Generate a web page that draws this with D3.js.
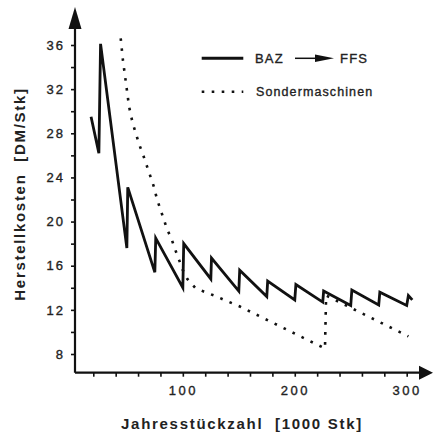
<!DOCTYPE html>
<html>
<head>
<meta charset="utf-8">
<script src="https://cdn.jsdelivr.net/npm/d3@7"></script>
<style>
  html, body { margin: 0; padding: 0; background: #fff; }
  svg { display: block; font-family: "Liberation Sans", Arial, sans-serif; }
  .thick { stroke: #222; stroke-width: 0.35px; }
</style>
</head>
<body>
<svg id="chart" width="435" height="435"></svg>
<script>
// BAZ -> FFS (sawtooth), Jahresstueckzahl in 1000 Stk, Kosten in DM/Stk
var bazX = [18, 25, 26.5, 50, 50.8, 75, 75.8, 100, 100.8, 125, 125.6, 150, 150.8, 175, 175.8, 200, 201, 225, 225.8, 250, 251, 275, 276, 300, 301.5, 305];
var bazY = [29.5, 26.2, 36.1, 17.6, 23.1, 15.4, 18.5, 14.0, 18.0, 14.8, 16.7, 13.7, 15.6, 13.2, 14.6, 12.9, 14.3, 12.7, 13.7, 12.4, 13.8, 12.45, 13.6, 12.4, 13.3, 12.9];

// Sondermaschinen (dotted)
var sondX = [44.5, 46.5, 49, 52, 55, 58, 61, 65, 70, 74, 77, 82, 86, 90, 93, 96, 100, 104, 111, 120, 128, 137, 151, 227, 228, 301.5];
var sondY = [36.6, 34.6, 32.7, 30.4, 29.0, 28.0, 27.0, 25.9, 24.4, 23.2, 22.0, 20.5, 19.3, 18.4, 17.5, 16.7, 15.6, 14.8, 14.0, 13.6, 13.3, 12.9, 12.3, 8.5, 13.3, 9.6];

var xTicks = [20, 40, 60, 80, 100, 120, 140, 160, 180, 200, 220, 240, 260, 280, 300];
var xLabels = [100, 200, 300];
var yTicks = [8, 10, 12, 14, 16, 18, 20, 22, 24, 26, 28, 30, 32, 34, 36];
var yLabels = [8, 12, 16, 20, 24, 28, 32, 36];

var legendLabels = ["BAZ", "FFS", "Sondermaschinen"];
var xTitle = "Jahresstückzahl  [1000 Stk]";
var yTitle = "Herstellkosten  [DM/Stk]";

var svg = d3.select("#chart");

var x = d3.scaleLinear().domain([0, 300]).range([70.9, 406.7]);
var y = d3.scaleLinear().domain([8, 36]).range([354, 45]);

var axisX0 = 75;      // left end of x axis / position of y axis
var axisY0 = 372.7;   // y position of x axis

// x axis
let gx = svg.append("g")
  .attr("transform", "translate(0," + axisY0 + ")")
  .call(d3.axisBottom(x)
    .tickValues(xTicks)
    .tickSize(4)
    .tickPadding(9)
    .tickFormat(d => xLabels.includes(d) ? d : ""));
gx.select(".domain").remove();
gx.selectAll(".tick line").attr("stroke", "#111").attr("stroke-width", 1.6);
gx.selectAll(".tick text")
  .attr("class", "thick")
  .attr("fill", "#222")
  .style("font-size", "13px")
  .style("letter-spacing", "2.5px");

// y axis
let gy = svg.append("g")
  .attr("transform", "translate(" + axisX0 + ",0)")
  .call(d3.axisLeft(y)
    .tickValues(yTicks)
    .tickSize(4)
    .tickPadding(6)
    .tickFormat(d => yLabels.includes(d) ? d : ""));
gy.select(".domain").remove();
gy.selectAll(".tick line").attr("stroke", "#111").attr("stroke-width", 1.6);
gy.selectAll(".tick text")
  .attr("class", "thick")
  .attr("fill", "#222")
  .style("font-size", "13px")
  .style("letter-spacing", "2px");

// axis lines with arrows
svg.append("path")
  .attr("d", "M" + axisX0 + "," + axisY0 + "V28 M" + axisX0 + "," + axisY0 + "H420")
  .attr("fill", "none")
  .attr("stroke", "#111")
  .attr("stroke-width", 2.2);
svg.append("path")
  .attr("d", "M" + axisX0 + ",7 L" + (axisX0 + 6.5) + ",29 L" + (axisX0 - 6.5) + ",29 Z")
  .attr("fill", "#111");
svg.append("path")
  .attr("d", "M433," + axisY0 + " L419," + (axisY0 - 7) + " L419," + (axisY0 + 7) + " Z")
  .attr("fill", "#111");

// data lines
var line = d3.line()
  .x(d => x(d[0]))
  .y(d => y(d[1]));

svg.append("path")
  .datum(d3.zip(sondX, sondY))
  .attr("d", line)
  .attr("fill", "none")
  .attr("stroke", "#111")
  .attr("stroke-width", 2.6)
  .attr("stroke-dasharray", "2.6 7.4");

svg.append("path")
  .datum(d3.zip(bazX, bazY))
  .attr("d", line)
  .attr("fill", "none")
  .attr("stroke", "#111")
  .attr("stroke-width", 2.8)
  .attr("stroke-linejoin", "miter");

// legend
let leg = svg.append("g").attr("class", "legend");
leg.append("line")
  .attr("x1", 201.7).attr("x2", 243.3)
  .attr("y1", 58.3).attr("y2", 58.3)
  .attr("stroke", "#111").attr("stroke-width", 3);
leg.append("text").text(legendLabels[0])
  .attr("class", "thick")
  .attr("x", 255).attr("y", 62.8)
  .style("font-size", "13px").style("letter-spacing", "1.2px")
  .attr("fill", "#222");
leg.append("line")
  .attr("x1", 295).attr("x2", 318)
  .attr("y1", 58.3).attr("y2", 58.3)
  .attr("stroke", "#111").attr("stroke-width", 1.5);
leg.append("path")
  .attr("d", "M334,58.3 L315,54.6 L315,62 Z")
  .attr("fill", "#111");
leg.append("text").text(legendLabels[1])
  .attr("class", "thick")
  .attr("x", 340).attr("y", 62.8)
  .style("font-size", "13px").style("letter-spacing", "1.2px")
  .attr("fill", "#222");
leg.append("line")
  .attr("x1", 201.7).attr("x2", 243.3)
  .attr("y1", 91.7).attr("y2", 91.7)
  .attr("stroke", "#111").attr("stroke-width", 2.6)
  .attr("stroke-dasharray", "2.6 7.4");
leg.append("text").text(legendLabels[2])
  .attr("class", "thick")
  .attr("x", 256).attr("y", 95.5)
  .style("font-size", "12.5px").style("letter-spacing", "1.1px")
  .attr("fill", "#222");

// axis titles
svg.append("text").text(xTitle)
  .attr("x", 242).attr("y", 429)
  .attr("text-anchor", "middle")
  .style("font-size", "15px").style("font-weight", "bold")
  .style("letter-spacing", "1.7px")
  .style("white-space", "pre")
  .attr("fill", "#222");

svg.append("text").text(yTitle)
  .attr("transform", "translate(25,194) rotate(-90)")
  .attr("text-anchor", "middle")
  .style("font-size", "15px").style("font-weight", "bold")
  .style("letter-spacing", "1.7px")
  .style("white-space", "pre")
  .attr("fill", "#222");
</script>
</body>
</html>
